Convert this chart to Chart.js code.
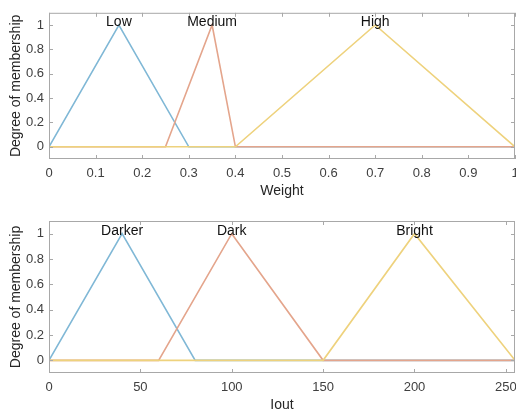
<!DOCTYPE html>
<html>
<head>
<meta charset="utf-8">
<script src="https://cdn.jsdelivr.net/npm/chart.js@4.4.0/dist/chart.umd.min.js"></script>
<style>
  html, body { margin: 0; padding: 0; background: #fff; }
  #wrap { position: relative; width: 516px; height: 411px; overflow: hidden; }
  .box { position: absolute; left: 0; width: 540px; }
</style>
</head>
<body>
<div id="wrap">
  <div class="box" style="top:0;height:200px"><canvas id="weightChart"></canvas></div>
  <div class="box" style="top:200px;height:214px"><canvas id="ioutChart"></canvas></div>
</div>
<script>
// membership functions, weight input
const weightTicks = [0, 0.1, 0.2, 0.3, 0.4, 0.5, 0.6, 0.7, 0.8, 0.9, 1];
const lowX = [0, 0.15, 0.3, 1];
const lowY = [0, 1, 0, 0];
const mediumX = [0, 0.25, 0.35, 0.4, 1];
const mediumY = [0, 0, 1, 0, 0];
const highX = [0, 0.4, 0.7, 1];
const highY = [0, 0, 1, 0];
const weightNames = ["Low", "Medium", "High"];
const weightPeaks = [0.15, 0.35, 0.7];

// membership functions, output
const ioutTicks = [0, 50, 100, 150, 200, 250];
const darkerX = [0, 40, 80, 255];
const darkerY = [0, 1, 0, 0];
const darkX = [0, 60, 100, 150, 255];
const darkY = [0, 0, 1, 0, 0];
const brightX = [0, 150, 200, 255];
const brightY = [0, 0, 1, 0];
const ioutNames = ["Darker", "Dark", "Bright"];
const ioutPeaks = [40, 100, 200];

const yTicks = [0, 0.2, 0.4, 0.6, 0.8, 1];
const colors = ['rgb(128,184,214)', 'rgb(228,165,140)', 'rgb(238,210,125)'];
const FONT = '"Liberation Sans", Arial, sans-serif';

function pts(xs, ys) {
  return xs.map((x, i) => ({ x: x, y: ys[i] }));
}

// matlab-ish box with inward ticks and the mf names
const boxPlugin = {
  id: 'boxPlugin',
  afterDraw(chart) {
    const ctx = chart.ctx;
    const a = chart.chartArea;
    const xs = chart.scales.x, ys = chart.scales.y;
    ctx.save();
    ctx.strokeStyle = '#a8a8a8';
    ctx.lineWidth = 1;
    ctx.strokeRect(a.left + 0.5, a.top + 0.5, a.right - a.left - 1, a.bottom - a.top - 1);
    ctx.beginPath();
    xs.ticks.forEach(t => {
      const px = Math.round(xs.getPixelForValue(t.value)) + 0.5;
      ctx.moveTo(px, a.bottom); ctx.lineTo(px, a.bottom - 4);
      ctx.moveTo(px, a.top); ctx.lineTo(px, a.top + 4);
    });
    ys.ticks.forEach(t => {
      const py = Math.round(ys.getPixelForValue(t.value)) + 0.5;
      ctx.moveTo(a.left, py); ctx.lineTo(a.left + 4, py);
      ctx.moveTo(a.right, py); ctx.lineTo(a.right - 4, py);
    });
    ctx.stroke();
    const o = chart.options.plugins.boxPlugin;
    ctx.fillStyle = '#111';
    ctx.font = '14px ' + FONT;
    ctx.textAlign = 'center';
    ctx.textBaseline = 'alphabetic';
    o.names.forEach((n, i) => {
      ctx.fillText(n, xs.getPixelForValue(o.peaks[i]), ys.getPixelForValue(1) + 1);
    });
    ctx.restore();
  }
};

const fmt = v => String(+(+v).toFixed(2));

function makeChart(id, sets, xTicks, xMax, xTitle, names, peaks, padTop) {
  new Chart(document.getElementById(id), {
    type: 'scatter',
    data: {
      datasets: sets.map((s, i) => ({
        data: s,
        showLine: true,
        borderColor: colors[i],
        backgroundColor: colors[i],
        borderWidth: 1.6,
        pointRadius: 0,
        order: 2 - i
      }))
    },
    options: {
      responsive: true,
      maintainAspectRatio: false,
      animation: false,
      layout: { padding: { top: padTop, right: 25, left: 0, bottom: 0 } },
      plugins: {
        legend: { display: false },
        tooltip: { enabled: false },
        boxPlugin: { names: names, peaks: peaks }
      },
      scales: {
        x: {
          type: 'linear',
          min: 0,
          max: xMax,
          grid: { display: false, drawTicks: false },
          border: { display: false },
          afterBuildTicks: s => { s.ticks = xTicks.map(v => ({ value: v })); },
          afterFit: s => { s.height = 41; s.paddingLeft = 0; s.paddingRight = 0; },
          ticks: {
            color: '#404040',
            padding: 7,
            maxRotation: 0,
            callback: fmt,
            font: { family: FONT, size: 13 }
          },
          title: {
            display: true,
            text: xTitle,
            color: '#262626',
            padding: { top: 0, bottom: 0 },
            font: { family: FONT, size: 14 }
          }
        },
        y: {
          min: -0.1,
          max: 1.1,
          grid: { display: false, drawTicks: false },
          border: { display: false },
          afterBuildTicks: s => { s.ticks = yTicks.map(v => ({ value: v })); },
          afterFit: s => { s.width = 49; },
          ticks: {
            color: '#404040',
            padding: 5,
            callback: fmt,
            font: { family: FONT, size: 13 }
          },
          title: {
            display: true,
            text: 'Degree of membership',
            color: '#262626',
            padding: { top: 8, bottom: 0 },
            font: { family: FONT, size: 14 }
          }
        }
      }
    },
    plugins: [boxPlugin]
  });
}

makeChart('weightChart', [pts(lowX, lowY), pts(mediumX, mediumY), pts(highX, highY)],
  weightTicks, 1, 'Weight', weightNames, weightPeaks, 5);
makeChart('ioutChart', [pts(darkerX, darkerY), pts(darkX, darkY), pts(brightX, brightY)],
  ioutTicks, 255, 'Iout', ioutNames, ioutPeaks, 21);
</script>
</body>
</html>
